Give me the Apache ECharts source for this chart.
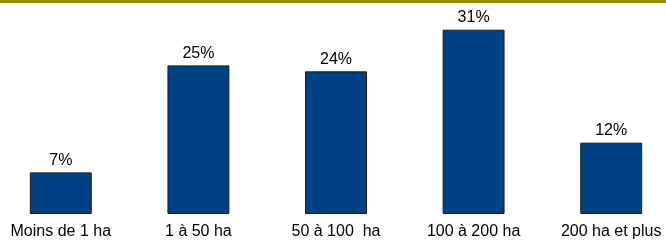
<!DOCTYPE html>
<html>
<head>
<meta charset="utf-8">
<script src="https://cdn.jsdelivr.net/npm/echarts@6/dist/echarts.min.js"></script>
<style>
  html, body { margin: 0; padding: 0; background: #fff; overflow: hidden; }
  /* la zone de tracé déborde un peu à gauche et à droite de la fenêtre */
  #chart { width: 688px; height: 240px; margin-left: -8px; }
</style>
</head>
<body>
<div id="chart"></div>
<script>
// catégories et parts (%)
const categories = ['Moins de 1 ha', '1 à 50 ha', '50 à 100  ha', '100 à 200 ha', '200 ha et plus'];
const shares = [7, 25, 24, 31, 12];

const chart = echarts.init(document.getElementById('chart'));

const option = {
  animation: false,
  graphic: [
    {
      type: 'rect',
      left: 0,
      top: 0,
      shape: { width: 688, height: 3 },
      style: { fill: '#9c8c00' }
    }
  ],
  grid: {
    left: 0,
    right: 0,
    top: 0,
    bottom: 26,
    containLabel: false
  },
  xAxis: {
    type: 'category',
    data: categories,
    axisLine: { show: false },
    axisTick: { show: false },
    axisLabel: {
      interval: 0,
      margin: 10,
      color: '#000',
      fontFamily: 'Liberation Sans',
      fontSize: 16
    }
  },
  yAxis: {
    type: 'value',
    min: 0,
    max: 36,
    show: false,
    splitLine: { show: false }
  },
  series: [
    {
      type: 'bar',
      data: shares,
      barWidth: '45%',
      itemStyle: {
        color: '#004185',
        borderColor: '#1a1a1a',
        borderWidth: 1
      },
      label: {
        show: true,
        position: 'top',
        distance: 4,
        formatter: '{c}%',
        color: '#000',
        fontFamily: 'Liberation Sans',
        fontSize: 16
      }
    }
  ]
};

chart.setOption(option);
</script>
</body>
</html>
